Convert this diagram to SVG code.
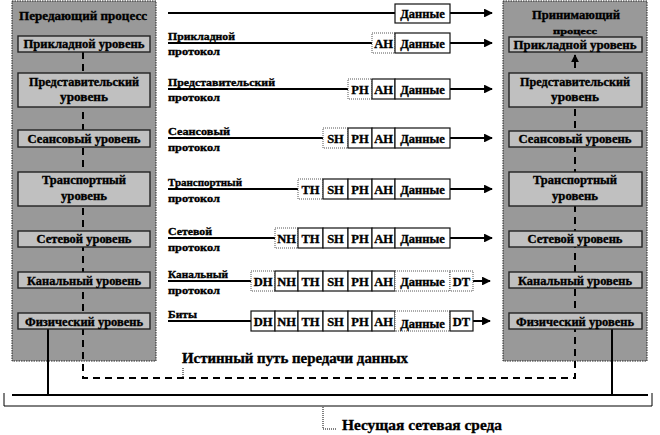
<svg xmlns="http://www.w3.org/2000/svg" width="660" height="435" viewBox="0 0 660 435">
<defs>
<style>
text{font-family:"Liberation Serif","DejaVu Serif",serif;font-weight:bold;fill:#000;stroke:#000;stroke-width:0.35}
.panel{fill:#999999;stroke:#222;stroke-width:1;stroke-dasharray:1.5 1}
.lvl{fill:#c0c0c0;stroke:#222;stroke-width:1.4}
.lt{font-size:12px;text-anchor:middle}
.lb{font-size:11px}
.ct{font-size:12.5px;text-anchor:middle}
.cell{fill:#fff;stroke:#111;stroke-width:1.2}
.new{fill:#fff;stroke:#555;stroke-width:1;stroke-dasharray:1 1}
.flow{fill:none;stroke:#000;stroke-width:2.2}
.dash{fill:none;stroke:#000;stroke-width:2;stroke-dasharray:7 5}
.solid{fill:none;stroke:#000;stroke-width:2}
.thin{fill:none;stroke:#000;stroke-width:1}
.dot{fill:none;stroke:#000;stroke-width:1;stroke-dasharray:1 1}
</style>
<marker id="ah" viewBox="0 0 10 10" refX="9" refY="5" markerWidth="4" markerHeight="4" orient="auto" markerUnits="strokeWidth">
<path d="M0,0 L10,5 L0,10 z" fill="#000"/>
</marker>
</defs>

<g id="sender-panel">
<rect class="panel" x="12" y="1" width="144" height="360"/>
<text class="lt" x="83" y="20" textLength="128" lengthAdjust="spacingAndGlyphs">Передающий  процесс</text>
</g>
<g id="receiver-panel">
<rect class="panel" x="503" y="1" width="144" height="360"/>
<text class="lt" x="576" y="19" textLength="88" lengthAdjust="spacingAndGlyphs">Принимающий</text>
<text class="lt" x="575" y="34" textLength="44" lengthAdjust="spacingAndGlyphs" style="font-size:9px">процесс</text>
</g>

<g id="connectors">
<path class="dash" d="M83,52 V378 H575 V55" marker-end="url(#ah)"/>
<path class="solid" d="M48,329 V395"/>
<path class="solid" d="M612,329 V395"/>
<path class="flow" d="M168,13 H492" marker-end="url(#ah)"/>
<path class="flow" d="M168,43 H492" marker-end="url(#ah)"/>
<path class="flow" d="M168,89 H492" marker-end="url(#ah)"/>
<path class="flow" d="M168,138 H492" marker-end="url(#ah)"/>
<path class="flow" d="M168,189 H492" marker-end="url(#ah)"/>
<path class="flow" d="M168,238 H492" marker-end="url(#ah)"/>
<path class="flow" d="M168,281 H490" marker-end="url(#ah)"/>
<path class="flow" d="M168,321 H490" marker-end="url(#ah)"/>
<path class="dot" d="M183,368 V378"/>
</g>

<g id="sender-levels">
<g id="s-app"><rect class="lvl" x="18" y="36" width="132" height="16"/><text class="lt" x="84" y="48" textLength="121" lengthAdjust="spacingAndGlyphs">Прикладной уровень</text></g>
<g id="s-pres"><rect class="lvl" x="18" y="73" width="132" height="34"/><text class="lt" x="84" y="86" textLength="110" lengthAdjust="spacingAndGlyphs">Представительский</text><text class="lt" x="84" y="101" textLength="48" lengthAdjust="spacingAndGlyphs">уровень</text></g>
<g id="s-sess"><rect class="lvl" x="18" y="130" width="132" height="17"/><text class="lt" x="84" y="143" textLength="113" lengthAdjust="spacingAndGlyphs">Сеансовый уровень</text></g>
<g id="s-trans"><rect class="lvl" x="18" y="172" width="132" height="34"/><text class="lt" x="84" y="184" textLength="84" lengthAdjust="spacingAndGlyphs">Транспортный</text><text class="lt" x="84" y="200" textLength="46" lengthAdjust="spacingAndGlyphs">уровень</text></g>
<g id="s-net"><rect class="lvl" x="18" y="231" width="132" height="16"/><text class="lt" x="84" y="243" textLength="95" lengthAdjust="spacingAndGlyphs">Сетевой уровень</text></g>
<g id="s-link"><rect class="lvl" x="18" y="272" width="132" height="16"/><text class="lt" x="84" y="285" textLength="114" lengthAdjust="spacingAndGlyphs">Канальный уровень</text></g>
<g id="s-phys"><rect class="lvl" x="18" y="313" width="132" height="16"/><text class="lt" x="84" y="326" textLength="118" lengthAdjust="spacingAndGlyphs">Физический уровень</text></g>
</g>

<g id="receiver-levels">
<g id="r-app"><rect class="lvl" x="509" y="37" width="133" height="15"/><text class="lt" x="575" y="49" textLength="123" lengthAdjust="spacingAndGlyphs">Прикладной уровень</text></g>
<g id="r-pres"><rect class="lvl" x="509" y="73" width="133" height="34"/><text class="lt" x="575" y="86" textLength="110" lengthAdjust="spacingAndGlyphs">Представительский</text><text class="lt" x="575" y="101" textLength="48" lengthAdjust="spacingAndGlyphs">уровень</text></g>
<g id="r-sess"><rect class="lvl" x="509" y="131" width="133" height="16"/><text class="lt" x="575" y="143" textLength="113" lengthAdjust="spacingAndGlyphs">Сеансовый уровень</text></g>
<g id="r-trans"><rect class="lvl" x="509" y="172" width="133" height="34"/><text class="lt" x="575" y="184" textLength="84" lengthAdjust="spacingAndGlyphs">Транспортный</text><text class="lt" x="575" y="200" textLength="46" lengthAdjust="spacingAndGlyphs">уровень</text></g>
<g id="r-net"><rect class="lvl" x="509" y="231" width="133" height="16"/><text class="lt" x="575" y="243" textLength="95" lengthAdjust="spacingAndGlyphs">Сетевой уровень</text></g>
<g id="r-link"><rect class="lvl" x="509" y="272" width="133" height="16"/><text class="lt" x="575" y="285" textLength="114" lengthAdjust="spacingAndGlyphs">Канальный уровень</text></g>
<g id="r-phys"><rect class="lvl" x="509" y="313" width="133" height="16"/><text class="lt" x="575" y="326" textLength="118" lengthAdjust="spacingAndGlyphs">Физический уровень</text></g>
</g>

<g id="protocol-labels">
<text class="lb" x="168" y="40" textLength="67" lengthAdjust="spacingAndGlyphs">Прикладной</text>
<text class="lb" x="168" y="55" textLength="52" lengthAdjust="spacingAndGlyphs">протокол</text>
<text class="lb" x="168" y="86" textLength="107" lengthAdjust="spacingAndGlyphs">Представительский</text>
<text class="lb" x="168" y="101" textLength="52" lengthAdjust="spacingAndGlyphs">протокол</text>
<text class="lb" x="168" y="135" textLength="62" lengthAdjust="spacingAndGlyphs">Сеансовый</text>
<text class="lb" x="168" y="151" textLength="52" lengthAdjust="spacingAndGlyphs">протокол</text>
<text class="lb" x="168" y="186" textLength="74" lengthAdjust="spacingAndGlyphs">Транспортный</text>
<text class="lb" x="168" y="202" textLength="52" lengthAdjust="spacingAndGlyphs">протокол</text>
<text class="lb" x="168" y="235" textLength="44" lengthAdjust="spacingAndGlyphs">Сетевой</text>
<text class="lb" x="168" y="251" textLength="52" lengthAdjust="spacingAndGlyphs">протокол</text>
<text class="lb" x="168" y="278" textLength="60" lengthAdjust="spacingAndGlyphs">Канальный</text>
<text class="lb" x="168" y="294" textLength="52" lengthAdjust="spacingAndGlyphs">протокол</text>
<text class="lb" x="168" y="318" textLength="29" lengthAdjust="spacingAndGlyphs">Биты</text>
</g>

<g id="packet-1">
<rect class="cell" x="395" y="4" width="55" height="19"/><text class="ct" x="422.5" y="18">Данные</text>
</g>
<g id="packet-2">
<rect class="new" x="372" y="33" width="23" height="20"/><text class="ct" x="383.5" y="48">AH</text>
<rect class="cell" x="395" y="33" width="55" height="20"/><text class="ct" x="422.5" y="48">Данные</text>
</g>
<g id="packet-3">
<rect class="new" x="348" y="79" width="24" height="20"/><text class="ct" x="360" y="94">PH</text>
<rect class="cell" x="372" y="79" width="23" height="20"/><text class="ct" x="383.5" y="94">AH</text>
<rect class="cell" x="395" y="79" width="55" height="20"/><text class="ct" x="422.5" y="94">Данные</text>
</g>
<g id="packet-4">
<rect class="new" x="323" y="128" width="25" height="20"/><text class="ct" x="335.5" y="143">SH</text>
<rect class="cell" x="348" y="128" width="24" height="20"/><text class="ct" x="360" y="143">PH</text>
<rect class="cell" x="372" y="128" width="23" height="20"/><text class="ct" x="383.5" y="143">AH</text>
<rect class="cell" x="395" y="128" width="55" height="20"/><text class="ct" x="422.5" y="143">Данные</text>
</g>
<g id="packet-5">
<rect class="new" x="298" y="179" width="25" height="20"/><text class="ct" x="310.5" y="194">TH</text>
<rect class="cell" x="323" y="179" width="25" height="20"/><text class="ct" x="335.5" y="194">SH</text>
<rect class="cell" x="348" y="179" width="24" height="20"/><text class="ct" x="360" y="194">PH</text>
<rect class="cell" x="372" y="179" width="23" height="20"/><text class="ct" x="383.5" y="194">AH</text>
<rect class="cell" x="395" y="179" width="55" height="20"/><text class="ct" x="422.5" y="194">Данные</text>
</g>
<g id="packet-6">
<rect class="new" x="275" y="228" width="23" height="20"/><text class="ct" x="286.5" y="243">NH</text>
<rect class="cell" x="298" y="228" width="25" height="20"/><text class="ct" x="310.5" y="243">TH</text>
<rect class="cell" x="323" y="228" width="25" height="20"/><text class="ct" x="335.5" y="243">SH</text>
<rect class="cell" x="348" y="228" width="24" height="20"/><text class="ct" x="360" y="243">PH</text>
<rect class="cell" x="372" y="228" width="23" height="20"/><text class="ct" x="383.5" y="243">AH</text>
<rect class="cell" x="395" y="228" width="55" height="20"/><text class="ct" x="422.5" y="243">Данные</text>
</g>
<g id="packet-7">
<rect class="new" x="251" y="271" width="24" height="20"/><text class="ct" x="263" y="286">DH</text>
<rect class="cell" x="275" y="271" width="23" height="20"/><text class="ct" x="286.5" y="286">NH</text>
<rect class="cell" x="298" y="271" width="25" height="20"/><text class="ct" x="310.5" y="286">TH</text>
<rect class="cell" x="323" y="271" width="25" height="20"/><text class="ct" x="335.5" y="286">SH</text>
<rect class="cell" x="348" y="271" width="24" height="20"/><text class="ct" x="360" y="286">PH</text>
<rect class="cell" x="372" y="271" width="23" height="20"/><text class="ct" x="383.5" y="286">AH</text>
<rect class="new" x="395" y="271" width="55" height="20"/><text class="ct" x="422.5" y="286">Данные</text>
<rect class="new" x="450" y="271" width="23" height="20"/><text class="ct" x="461.5" y="286">DT</text>
</g>
<g id="packet-8">
<rect class="cell" x="251" y="311" width="24" height="20"/><text class="ct" x="263" y="326">DH</text>
<rect class="cell" x="275" y="311" width="23" height="20"/><text class="ct" x="286.5" y="326">NH</text>
<rect class="cell" x="298" y="311" width="25" height="20"/><text class="ct" x="310.5" y="326">TH</text>
<rect class="cell" x="323" y="311" width="25" height="20"/><text class="ct" x="335.5" y="326">SH</text>
<rect class="cell" x="348" y="311" width="24" height="20"/><text class="ct" x="360" y="326">PH</text>
<rect class="cell" x="372" y="311" width="23" height="20"/><text class="ct" x="383.5" y="326">AH</text>
<rect class="new" x="395" y="311" width="55" height="20"/><text class="ct" x="422.5" y="328">Данные</text>
<rect class="cell" x="450" y="311" width="23" height="20"/><text class="ct" x="461.5" y="326">DT</text>
</g>

<g id="true-path-label">
<text x="182" y="363" style="font-size:14px" textLength="226" lengthAdjust="spacingAndGlyphs">Истинный путь передачи данных</text>
</g>

<g id="medium">
<path class="solid" d="M12,395 H648"/>
<path class="thin" d="M4,393 V406 H652 V393"/>
<path class="dot" d="M323,407 V429 H336"/>
<text x="342" y="430" style="font-size:15px" textLength="160" lengthAdjust="spacingAndGlyphs">Несущая  сетевая среда</text>
</g>
</svg>
